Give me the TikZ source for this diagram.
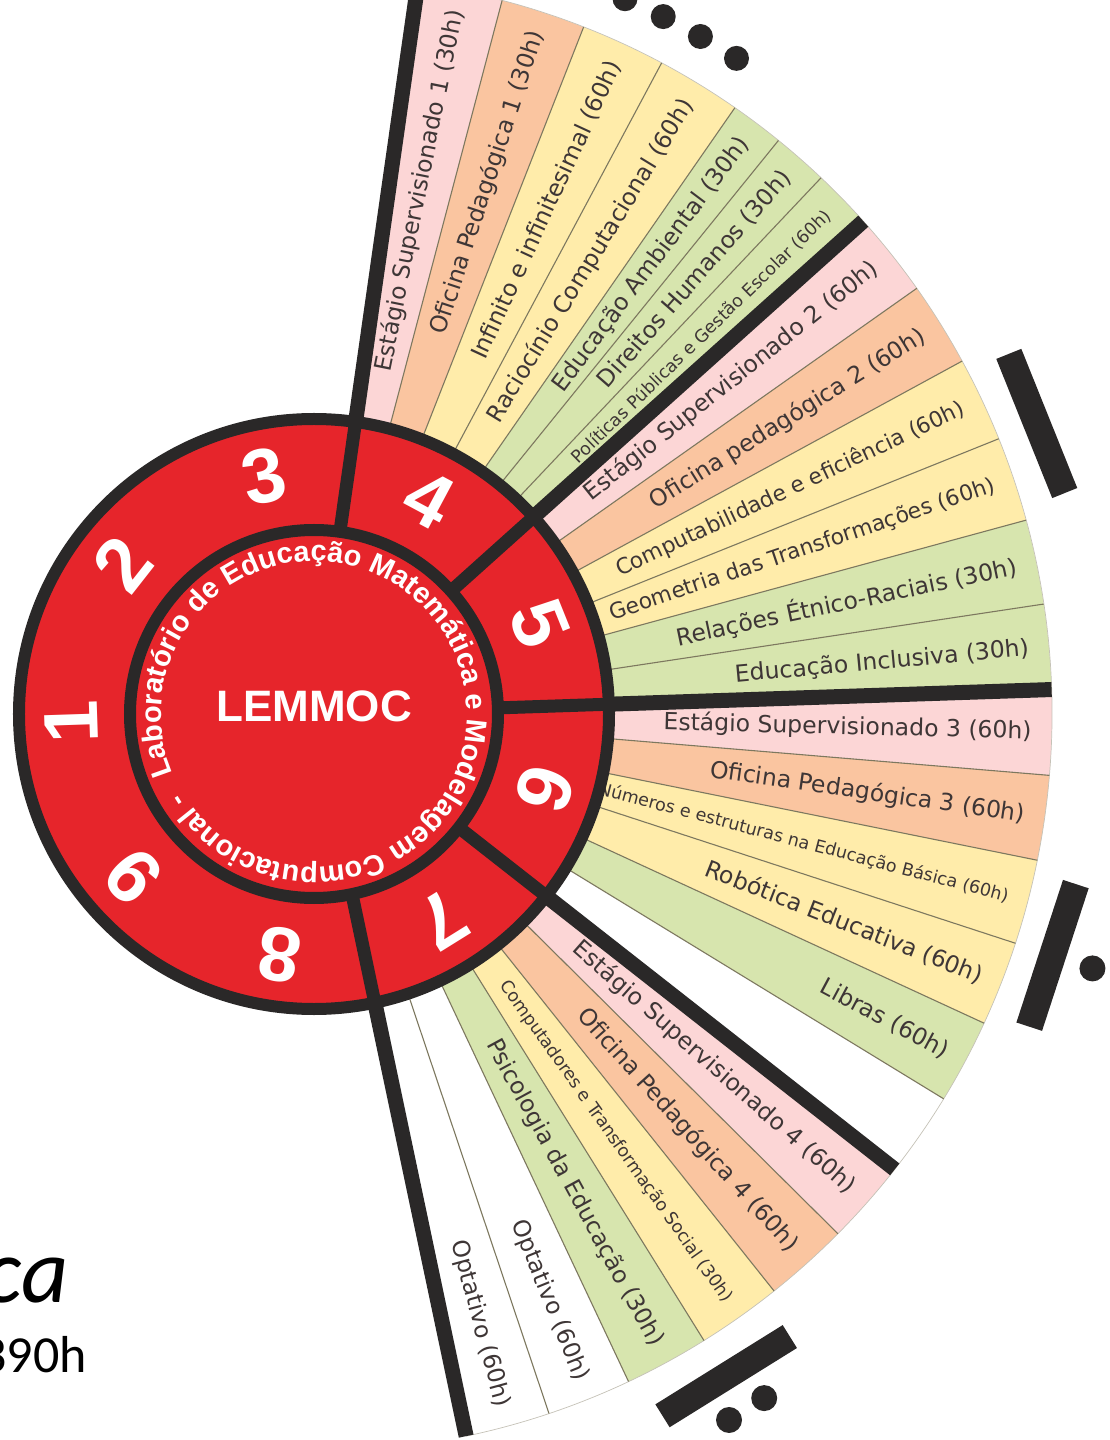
\documentclass[tikz,border=0pt]{standalone}
\usepackage{fontspec}
\setmainfont{DejaVu Sans}
\newfontfamily\hubfont{Liberation Sans}
\newfontfamily\calfont{Carlito}
\usetikzlibrary{decorations.text}
\definecolor{hubred}{RGB}{230,37,43}
\definecolor{ink}{RGB}{42,40,40}
\definecolor{cpink}{RGB}{252,214,214}
\definecolor{corange}{RGB}{250,197,160}
\definecolor{cyellow}{RGB}{255,236,170}
\definecolor{cgreen}{RGB}{215,229,174}
\definecolor{cwhite}{RGB}{255,255,255}
\definecolor{txtcol}{RGB}{62,54,54}
\definecolor{sepcol}{RGB}{125,120,95}
\newcommand\ringfont{\hubfont\bfseries\fontsize{29}{29}\selectfont\color{white}}
\begin{document}
\begin{tikzpicture}[x=1pt,y=1pt,
  bandtxt/.style={font=\fontsize{23.5}{24}\selectfont, text=txtcol, inner sep=0pt, anchor=east},
  bandsmall/.style={bandtxt, font=\fontsize{17.5}{18}\selectfont},
  bandmid/.style={bandtxt, font=\fontsize{21.8}{22}\selectfont},
  digit/.style={font=\hubfont\bfseries\fontsize{77}{77}\selectfont, text=white, inner sep=0pt},
  thickline/.style={ink, line width=15pt},
  hubsep/.style={ink, line width=13pt},
  thinsep/.style={sepcol, line width=1.1pt},
  mayabar/.style={fill=ink, draw=none, rectangle, minimum width=27pt, minimum height=150pt, inner sep=0pt},
  mayadot/.style={fill=ink}
]
\useasboundingbox (-314,-726) rectangle (795,714);
\clip (-314,-726) rectangle (795,714);

% ---------- fan bands ----------
\foreach \a/\b/\c in {
  81.9/75.23/cpink, 75.23/68.57/corange, 68.57/61.9/cyellow, 61.9/55.23/cyellow,
  55.23/51.0/cgreen, 51.0/46.6/cgreen, 46.6/41.9/cgreen,
  41.9/35.23/cpink, 35.23/28.57/corange, 28.57/21.9/cyellow, 21.9/15.23/cyellow,
  15.23/8.57/cgreen, 8.57/1.9/cgreen,
  1.9/-4.77/cpink, -4.77/-11.43/corange, -11.43/-18.1/cyellow, -18.1/-24.77/cyellow,
  -24.77/-31.43/cgreen, -31.43/-38.1/cwhite,
  -38.1/-44.77/cpink, -44.77/-51.43/corange, -51.43/-58.1/cyellow, -58.1/-64.77/cgreen,
  -64.77/-71.43/cwhite, -71.43/-78.1/cwhite}{
  \fill[\c] (0,0) -- (\a:738pt) arc[start angle=\a, end angle=\b, radius=738pt] -- cycle;
}
\draw[sepcol!45, line width=0.7pt] (81.9:738pt) arc[start angle=81.9, end angle=-78.1, radius=738pt];
\foreach \a in {75.23,68.57,61.9,55.23,51.0,46.6,35.23,28.57,21.9,15.23,8.57,
  -4.77,-11.43,-18.1,-24.77,-31.43,-44.77,-51.43,-58.1,-64.77,-71.43}{
  \draw[thinsep] (\a:295pt) -- (\a:738pt);
}
\foreach \a in {81.9,41.9,1.9,-38.1,-78.1}{
  \draw[thickline] (\a:295pt) -- (\a:738pt);
}

% ---------- band texts ----------
\node[bandtxt, rotate=78.57] (s4a) at (78.57:718pt) {Estágio Supervisionado 1 (30h)};
\node[bandtxt, rotate=71.9] (s4b) at (71.9:718pt) {Oficina Pedagógica 1 (30h)};
\node[bandtxt, rotate=65.23] (s4c) at (65.23:718pt) {Infinito e infinitesimal (60h)};
\node[bandtxt, rotate=58.57] (s4d) at (58.57:718pt) {Raciocínio Computacional (60h)};
\node[bandtxt, rotate=53.12] (s4e) at (53.12:718pt) {Educação Ambiental (30h)};
\node[bandtxt, rotate=48.8] (s4f) at (48.8:718pt) {Direitos Humanos (30h)};
\node[bandsmall, rotate=44.25] (s4g) at (44.25:718pt) {Políticas Públicas e Gestão Escolar (60h)};

\node[bandtxt, rotate=38.57] (s5a) at (38.57:718pt) {Estágio Supervisionado 2 (60h)};
\node[bandtxt, rotate=31.9] (s5b) at (31.9:718pt) {Oficina pedagógica 2 (60h)};
\node[bandmid, rotate=25.23] (s5c) at (25.23:718pt) {Computabilidade e eficiência (60h)};
\node[bandmid, rotate=18.57] (s5d) at (18.57:718pt) {Geometria das Transformações (60h)};
\node[bandtxt, rotate=11.9] (s5e) at (11.9:718pt) {Relações Étnico-Raciais (30h)};
\node[bandtxt, rotate=5.23] (s5f) at (5.23:718pt) {Educação Inclusiva (30h)};

\node[bandtxt, rotate=-1.43] (s6a) at (-1.43:718pt) {Estágio Supervisionado 3 (60h)};
\node[bandtxt, rotate=-8.1] (s6b) at (-8.1:718pt) {Oficina Pedagógica 3 (60h)};
\node[bandsmall, rotate=-14.77] (s6c) at (-14.77:718pt) {Números e estruturas na Educação Básica (60h)};
\node[bandtxt, rotate=-21.43] (s6d) at (-21.43:718pt) {Robótica Educativa (60h)};
\node[bandtxt, rotate=-28.1] (s6e) at (-28.1:718pt) {Libras (60h)};

\node[bandtxt, rotate=-41.43] (s7a) at (-41.43:718pt) {Estágio Supervisionado 4 (60h)};
\node[bandtxt, rotate=-48.1] (s7b) at (-48.1:718pt) {Oficina Pedagógica 4 (60h)};
\node[bandsmall, rotate=-54.77] (s7c) at (-54.77:718pt) {Computadores e Transformação Social (30h)};
\node[bandtxt, rotate=-61.43] (s7d) at (-61.43:718pt) {Psicologia da Educação (30h)};
\node[bandtxt, rotate=-68.1] (s7e) at (-68.1:718pt) {Optativo (60h)};
\node[bandtxt, rotate=-74.77] (s7f) at (-74.77:718pt) {Optativo (60h)};

% ---------- hub ----------
\fill[hubred] (0,0) circle (295pt);
\draw[ink, line width=12pt] (0,0) circle (295pt);
\draw[ink, line width=12pt] (0,0) circle (184pt);
\foreach \a in {81.9,41.9,1.9,-38.1,-78.1}{
  \draw[hubsep] (\a:184pt) -- (\a:295pt);
}
\foreach \n in {1,...,9}{
  \pgfmathsetmacro\ang{221.9-40*\n}
  \node[digit, rotate=\ang-90] (d\n) at (\ang:243pt) {\n};
}
\node[font=\hubfont\bfseries\fontsize{44}{44}\selectfont, text=white, inner sep=0pt] (lem) at (0,8) {LEMMOC};
\path[decorate, decoration={text along path, text align=left,
  text={|\ringfont|Laboratório de Educação Matemática e Modelagem Computacional -}}]
  (203:153pt) arc[start angle=203, end angle=-157, radius=153pt];

% ---------- Maya numerals ----------
\foreach \a in {57.2,60.3,63.4,66.5}{
  \fill[mayadot] (\a:780pt) circle (12.5pt);
}
\node[mayabar, rotate=21.9] (m5) at (21.9:779pt) {};
\node[mayabar, rotate=-18.1] (m6) at (-18.1:777pt) {};
\fill[mayadot] (-18.1:819pt) circle (13pt);
\node[mayabar, rotate=-58.1] (m7) at (-58.1:780pt) {};
\fill[mayadot] (-56.65:819pt) circle (13pt);
\fill[mayadot] (-59.55:819pt) circle (13pt);

% ---------- left texts ----------
\node[font=\calfont\itshape\fontsize{92}{92}\selectfont, anchor=base east, inner sep=0pt] (ca) at (-245,-588) {ca};
\node[font=\calfont\fontsize{52}{52}\selectfont, anchor=base east, inner sep=0pt] (hrs) at (-227,-658) {390h};
\end{tikzpicture}
\end{document}
